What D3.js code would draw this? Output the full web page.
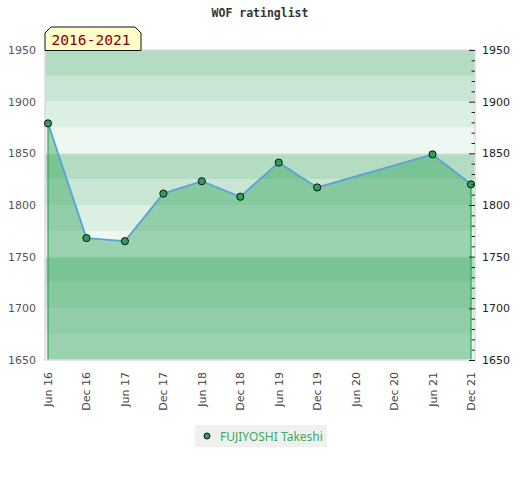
<!DOCTYPE html>
<html>
<head>
<meta charset="utf-8">
<script src="https://cdn.jsdelivr.net/npm/d3@7.9.0/dist/d3.min.js"></script>
<style>
  body { margin: 0; background: #fff; }
  svg { display: block; }
</style>
</head>
<body>
<svg id="chart" width="520" height="480"></svg>
<script>
const months = ['Jun 16', 'Dec 16', 'Jun 17', 'Dec 17', 'Jun 18', 'Dec 18',
  'Jun 19', 'Dec 19', 'Jun 20', 'Dec 20', 'Jun 21', 'Dec 21'];
const ratings = [1879, 1768, 1765, 1811, 1823, 1808, 1841, 1817, null, null, 1849, 1820];
const yTicks = [1650, 1700, 1750, 1800, 1850, 1900, 1950];
const player = 'FUJIYOSHI Takeshi';
const period = '2016-2021';
const title = 'WOF ratinglist';

const bandColors = ['#eef7f1', '#dcefe3', '#c8e6d3', '#b3dcc2'];

const svg = d3.select('#chart');
const plotLeft = 45, plotRight = 475, plotTop = 50, plotBottom = 360;

const x = d3.scalePoint().domain(months).range([48, 471]);
const y = d3.scaleLinear().domain([1650, 1950]).range([plotBottom, plotTop]);

const points = months
  .map((m, i) => ({ month: m, value: ratings[i] }))
  .filter(d => d.value !== null);

// background bands, 25 points each
const bands = d3.range(1650, 1950, 25);
svg.append('g')
  .selectAll('rect')
  .data(bands)
  .join('rect')
  .attr('x', plotLeft)
  .attr('width', plotRight - plotLeft)
  .attr('y', d => y(d + 25))
  .attr('height', d => y(d) - y(d + 25))
  .attr('fill', (d, i) => bandColors[i % 4]);

svg.append('g')
  .selectAll('line')
  .data(yTicks.slice(1, -1))
  .join('line')
  .attr('x1', plotLeft)
  .attr('x2', plotRight)
  .attr('y1', d => y(d) + 0.5)
  .attr('y2', d => y(d) + 0.5)
  .attr('stroke', '#e4ece6')
  .attr('stroke-width', 1);

// area under the rating line
const area = d3.area()
  .x(d => x(d.month))
  .y0(y(1650))
  .y1(d => y(d.value));

svg.append('path')
  .datum(points)
  .attr('d', area)
  .attr('fill', 'rgb(50,165,90)')
  .attr('fill-opacity', 0.44);

const first = points[0], last = points[points.length - 1];
svg.append('g')
  .selectAll('line')
  .data([first, last])
  .join('line')
  .attr('x1', d => x(d.month))
  .attr('x2', d => x(d.month))
  .attr('y1', d => y(d.value))
  .attr('y2', y(1650))
  .attr('stroke', '#2ea44f')
  .attr('stroke-width', 1.2);

// frame
svg.append('rect')
  .attr('x', plotLeft)
  .attr('y', plotTop)
  .attr('width', plotRight - plotLeft)
  .attr('height', plotBottom - plotTop)
  .attr('fill', 'none')
  .attr('stroke', '#dcdcdc')
  .attr('stroke-width', 1.5);

const line = d3.line()
  .x(d => x(d.month))
  .y(d => y(d.value));

svg.append('path')
  .datum(points)
  .attr('d', line)
  .attr('fill', 'none')
  .attr('stroke', '#5aa2d8')
  .attr('stroke-width', 1.8);

svg.append('g')
  .selectAll('circle')
  .data(points)
  .join('circle')
  .attr('cx', d => x(d.month))
  .attr('cy', d => y(d.value))
  .attr('r', 3.6)
  .attr('fill', '#2e9e5a')
  .attr('stroke', '#111')
  .attr('stroke-width', 1);

// left axis labels
svg.append('g')
  .selectAll('text')
  .data(yTicks)
  .join('text')
  .attr('x', 36)
  .attr('y', d => y(d) + 4)
  .attr('text-anchor', 'end')
  .attr('font-family', 'DejaVu Sans')
  .attr('font-size', 11)
  .attr('fill', '#555')
  .text(d => d);

// right axis: minor ticks every 10, labels every 50
const rightAxis = d3.axisRight(y)
  .tickValues(d3.range(1650, 1951, 10))
  .tickSize(0)
  .tickFormat('');
const ra = svg.append('g').attr('transform', `translate(${plotRight},0)`).call(rightAxis);
ra.select('.domain').remove();
ra.selectAll('.tick line').remove();
ra.selectAll('.tick').append('line')
  .attr('x1', d => (d % 50 === 0 ? -6 : -3.5))
  .attr('x2', 0)
  .attr('stroke', '#222')
  .attr('stroke-width', 1);

svg.append('g')
  .selectAll('text')
  .data(yTicks)
  .join('text')
  .attr('x', 482)
  .attr('y', d => y(d) + 4)
  .attr('font-family', 'DejaVu Sans')
  .attr('font-size', 11)
  .attr('fill', '#222')
  .text(d => d);

// x labels rotated
svg.append('g')
  .selectAll('text')
  .data(months)
  .join('text')
  .attr('transform', d => `translate(${x(d) + 4},372) rotate(-90)`)
  .attr('text-anchor', 'end')
  .attr('font-family', 'DejaVu Sans')
  .attr('font-size', 11)
  .attr('fill', '#444')
  .text(d => d);

// title
svg.append('text')
  .attr('x', 260)
  .attr('y', 17)
  .attr('text-anchor', 'middle')
  .attr('font-family', 'DejaVu Sans Mono')
  .attr('font-weight', 'bold')
  .attr('font-size', 11.5)
  .attr('fill', '#333')
  .text(title);

// period tag
svg.append('polygon')
  .attr('points', '45,50.5 45,33 51,27 135,27 141,33 141,50.5')
  .attr('fill', '#ffffcc')
  .attr('stroke', '#111')
  .attr('stroke-width', 1);
svg.append('text')
  .attr('x', 51.5)
  .attr('y', 45)
  .attr('font-family', 'DejaVu Sans Mono')
  .attr('font-size', 14.6)
  .attr('fill', '#8b0000')
  .text(period);

// legend
const lg = svg.append('g');
lg.append('rect')
  .attr('x', 195).attr('y', 425)
  .attr('width', 132).attr('height', 22)
  .attr('fill', '#f0f0f0');
lg.append('circle')
  .attr('cx', 207).attr('cy', 436).attr('r', 3)
  .attr('fill', '#2e9e5a')
  .attr('stroke', '#111')
  .attr('stroke-width', 1);
lg.append('text')
  .attr('x', 220).attr('y', 440.5)
  .attr('font-family', 'Noto Sans')
  .attr('font-size', 12)
  .attr('fill', '#3aaa62')
  .text(player);
</script>
</body>
</html>
